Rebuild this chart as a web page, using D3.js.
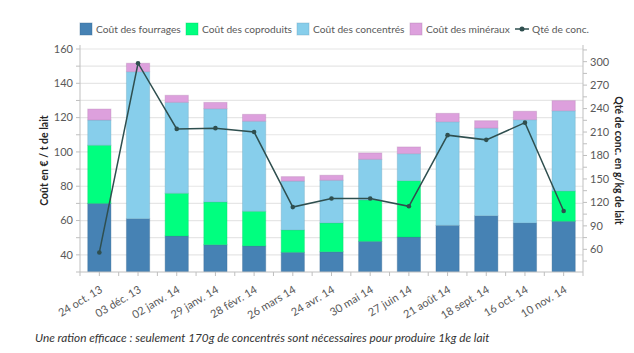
<!DOCTYPE html>
<html>
<head>
<meta charset="utf-8">
<script src="https://cdn.jsdelivr.net/npm/d3@7"></script>
<style>
  body { margin: 0; background: #fff; }
  svg { font-family: Lato, "Open Sans", sans-serif; }
</style>
</head>
<body>
<div id="chart"></div>
<script>
// Data
const dates = ['24 oct. 13', '03 déc. 13', '02 janv. 14', '29 janv. 14', '28 févr. 14', '26 mars 14',
    '24 avr. 14', '30 mai 14', '27 juin 14', '21 août 14', '18 sept. 14', '16 oct. 14', '10 nov. 14'];
const fourrages = [70.0, 61.1, 51.0, 45.9, 45.2, 41.5, 41.8, 47.9, 50.4, 57.2, 62.8, 58.6, 59.6];
const coproduits = [33.9, 0, 24.9, 24.9, 20.2, 13.0, 16.8, 24.1, 32.8, 0, 0, 0, 17.6];
const concentres = [14.7, 85.7, 53.0, 54.4, 52.5, 28.5, 24.9, 23.7, 15.8, 60.4, 51.1, 60.2, 46.8];
const mineraux = [6.4, 4.9, 4.1, 3.7, 4.0, 2.6, 2.9, 3.7, 3.9, 4.9, 4.3, 4.9, 5.9];
const qteConc = [56, 298, 214, 215, 210, 114, 125, 125, 115, 206, 200, 222, 109];

const seriesNames = ['Coût des fourrages', 'Coût des coproduits', 'Coût des concentrés', 'Coût des minéraux'];
const seriesColors = ['#4682b4', '#00ff7f', '#87ceeb', '#dda0dd'];
const lineName = 'Qté de conc.';
const leftTicks = [40, 60, 80, 100, 120, 140, 160];
const rightTicks = [60, 90, 120, 150, 180, 210, 240, 270, 300];

const width = 634, height = 353;
const plot = { left: 80, right: 583, top: 49, bottom: 272 };

const svg = d3.select('#chart').append('svg')
    .attr('width', width)
    .attr('height', height);

// Scales
const x = d3.scaleBand()
    .domain(dates)
    .range([plot.left, plot.right])
    .paddingInner(0.4)
    .paddingOuter(0.2);

const y = d3.scaleLinear().domain([30, 160]).range([plot.bottom, plot.top]);
const y2 = d3.scaleLinear().domain([31, 316.2]).range([plot.bottom, plot.top]);

// Gridlines every 10
svg.append('g')
    .selectAll('line')
    .data(d3.range(40, 161, 10))
    .enter()
    .append('line')
    .attr('x1', plot.left)
    .attr('x2', plot.right)
    .attr('y1', d => y(d))
    .attr('y2', d => y(d))
    .style('stroke', '#e6e6e6')
    .style('stroke-width', 1.2);

// Stacked bars
const rows = dates.map((d, i) => ({
    date: d,
    s0: fourrages[i], s1: coproduits[i], s2: concentres[i], s3: mineraux[i]
}));
const stack = d3.stack().keys(['s0', 's1', 's2', 's3'])(rows);

svg.append('clipPath').attr('id', 'plot-clip')
    .append('rect')
    .attr('x', plot.left).attr('y', plot.top - 5)
    .attr('width', plot.right - plot.left)
    .attr('height', plot.bottom - plot.top + 5);

const bars = svg.append('g').attr('clip-path', 'url(#plot-clip)');
stack.forEach((layer, k) => {
    bars.append('g')
        .selectAll('rect')
        .data(layer)
        .enter()
        .append('rect')
        .attr('x', d => x(d.data.date))
        .attr('width', x.bandwidth())
        .attr('y', d => y(d[1]))
        .attr('height', d => Math.max(0, y(d[0]) - y(d[1])))
        .style('fill', seriesColors[k])
        .style('stroke', d3.color(seriesColors[k]).darker(0.6))
        .style('stroke-opacity', 0.35)
        .style('stroke-width', 1);
});

// Axes lines
const axisColor = '#bfbfbf';
const labelColor = '#595959';
svg.append('line')
    .attr('x1', plot.left).attr('x2', plot.left)
    .attr('y1', plot.top - 4).attr('y2', plot.bottom)
    .style('stroke', axisColor);
svg.append('line')
    .attr('x1', plot.right).attr('x2', plot.right)
    .attr('y1', plot.top - 4).attr('y2', plot.bottom)
    .style('stroke', axisColor);
svg.append('line')
    .attr('x1', plot.left).attr('x2', plot.right)
    .attr('y1', plot.bottom).attr('y2', plot.bottom)
    .style('stroke', axisColor);

// Left ticks (every 10) and labels
svg.append('g')
    .selectAll('line')
    .data(d3.range(30, 161, 10))
    .enter()
    .append('line')
    .attr('x1', plot.left - 4).attr('x2', plot.left)
    .attr('y1', d => y(d)).attr('y2', d => y(d))
    .style('stroke', axisColor);
svg.append('g')
    .selectAll('text')
    .data(leftTicks)
    .enter()
    .append('text')
    .attr('x', plot.left - 7)
    .attr('y', d => y(d))
    .attr('dy', '0.35em')
    .style('text-anchor', 'end')
    .style('font-size', '11px')
    .style('fill', labelColor)
    .text(d => d);

// Right ticks (every 15) and labels
svg.append('g')
    .selectAll('line')
    .data(d3.range(45, 316, 15))
    .enter()
    .append('line')
    .attr('x1', plot.right).attr('x2', plot.right + 4)
    .attr('y1', d => y2(d)).attr('y2', d => y2(d))
    .style('stroke', axisColor);
svg.append('g')
    .selectAll('text')
    .data(rightTicks)
    .enter()
    .append('text')
    .attr('x', plot.right + 7)
    .attr('y', d => y2(d))
    .attr('dy', '0.35em')
    .style('font-size', '11px')
    .style('fill', labelColor)
    .text(d => d);

// Bottom ticks at band edges and centres
const step = x.step();
svg.append('g')
    .selectAll('line')
    .data(d3.range(0, dates.length * 2 + 1))
    .enter()
    .append('line')
    .attr('x1', i => plot.left + i * step / 2)
    .attr('x2', i => plot.left + i * step / 2)
    .attr('y1', plot.bottom).attr('y2', plot.bottom + 4)
    .style('stroke', axisColor);

// Category labels
svg.append('g')
    .selectAll('text')
    .data(dates)
    .enter()
    .append('text')
    .attr('transform', d => `translate(${x(d) + x.bandwidth() / 2},${plot.bottom + 13}) rotate(-31)`)
    .attr('dy', '0.7em')
    .style('text-anchor', 'end')
    .style('font-size', '11px')
    .style('fill', labelColor)
    .text(d => d);

// Line series
const line = d3.line()
    .x((d, i) => x(dates[i]) + x.bandwidth() / 2)
    .y(d => y2(d));
svg.append('path')
    .datum(qteConc)
    .attr('d', line)
    .style('fill', 'none')
    .style('stroke', '#2f4f4f')
    .style('stroke-width', 1.5);
svg.append('g')
    .selectAll('circle')
    .data(qteConc)
    .enter()
    .append('circle')
    .attr('cx', (d, i) => x(dates[i]) + x.bandwidth() / 2)
    .attr('cy', d => y2(d))
    .attr('r', 2.3)
    .style('fill', '#2f4f4f');

// Axis titles
svg.append('text')
    .attr('transform', `translate(48,${(plot.top + plot.bottom) / 2}) rotate(-90)`)
    .style('text-anchor', 'middle')
    .style('font-size', '10.5px')
    .style('font-weight', 'bold')
    .style('fill', '#262626')
    .text('Coût en € / t de lait');
svg.append('text')
    .attr('transform', `translate(615,${(plot.top + plot.bottom) / 2}) rotate(90)`)
    .style('text-anchor', 'middle')
    .style('font-size', '10.5px')
    .style('font-weight', 'bold')
    .style('fill', '#262626')
    .text('Qté de conc. en g/kg de lait');

// Legend
const legendX = [80, 186, 297, 410];
const legend = svg.append('g');
seriesNames.forEach((name, k) => {
    legend.append('rect')
        .attr('x', legendX[k]).attr('y', 23)
        .attr('width', 12).attr('height', 12)
        .style('fill', seriesColors[k])
        .style('stroke', d3.color(seriesColors[k]).darker(0.6))
        .style('stroke-opacity', 0.4);
    legend.append('text')
        .attr('x', legendX[k] + 16).attr('y', 29)
        .attr('dy', '0.35em')
        .style('font-size', '10.2px')
        .style('fill', labelColor)
        .text(name);
});
legend.append('line')
    .attr('x1', 515).attr('x2', 529)
    .attr('y1', 29).attr('y2', 29)
    .style('stroke', '#2f4f4f').style('stroke-width', 1.5);
legend.append('circle')
    .attr('cx', 522).attr('cy', 29).attr('r', 2.5)
    .style('fill', '#2f4f4f');
legend.append('text')
    .attr('x', 532).attr('y', 29)
    .attr('dy', '0.35em')
    .style('font-size', '10.2px')
    .style('fill', labelColor)
    .text(lineName);

// Caption
svg.append('text')
    .attr('x', 35).attr('y', 342)
    .style('font-size', '11.8px')
    .style('font-style', 'italic')
    .style('fill', '#333')
    .text('Une ration efficace : seulement 170g de concentrés sont nécessaires pour produire 1kg de lait');
</script>
</body>
</html>
